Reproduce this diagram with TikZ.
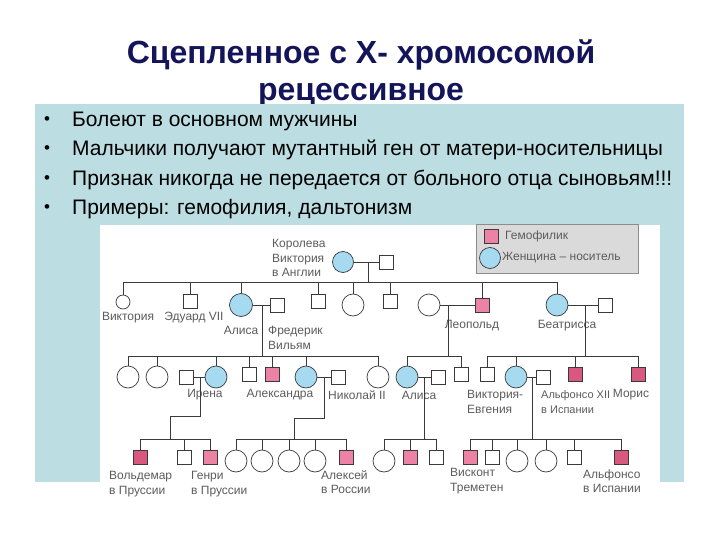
\documentclass[tikz,border=0pt]{standalone}
\usepackage{fontspec}
\setmainfont{Liberation Sans}

\definecolor{titleC}{HTML}{14145A}
\definecolor{panelC}{HTML}{BCDEE2}
\definecolor{carrierC}{HTML}{A6DAF0}
\definecolor{hemoC}{HTML}{EC82A4}
\definecolor{hemoDarkC}{HTML}{D8587F}
\definecolor{lineC}{HTML}{3A3A3A}
\definecolor{labelC}{HTML}{5C5C5C}
\definecolor{legendC}{HTML}{DADADA}

\tikzset{
  male/.style={rectangle, draw=lineC, fill=white, minimum size=14pt, inner sep=0pt, line width=0.7pt},
  hemo/.style={male, fill=hemoC},
  hemodark/.style={male, fill=hemoDarkC},
  female/.style={circle, draw=lineC, fill=white, minimum size=22pt, inner sep=0pt, line width=0.7pt},
  carrier/.style={female, fill=carrierC},
  link/.style={draw=lineC, line width=0.8pt},
  lbl/.style={text=labelC, font=\fontsize{12}{14.5}\selectfont, inner sep=0pt, align=left},
  bulletline/.style={anchor=west, inner sep=0pt, font=\fontsize{21}{24}\selectfont}
}

\begin{document}
\begin{tikzpicture}[x=1pt, y=-1pt]

\def\rowA{262}
\def\rowB{305}
\def\rowBs{301}
\def\rowC{377}
\def\rowCs{374}
\def\rowD{461}
\def\rowDs{457}

\useasboundingbox (0,0) rectangle (720,540);
\fill[white] (0,0) rectangle (720,540);

\node[font=\bfseries\fontsize{32}{37}\selectfont, text=titleC, align=center] (title) at (361,73) {Сцепленное с Х- хромосомой\\рецессивное};

\fill[panelC] (35,104) rectangle (684,482);
\fill[white] (100,225) rectangle (660,482);

\node[bulletline, font=\fontsize{17}{20}\selectfont] (d1) at (44,121) {•};
\node[bulletline, font=\fontsize{17}{20}\selectfont] (d2) at (44,150) {•};
\node[bulletline, font=\fontsize{17}{20}\selectfont] (d3) at (44,180) {•};
\node[bulletline, font=\fontsize{17}{20}\selectfont] (d4) at (44,209) {•};
\node[bulletline] (t1) at (72,121) {Болеют в основном мужчины};
\node[bulletline] (t2) at (72,150) {Мальчики получают мутантный ген от матери-носительницы};
\node[bulletline] (t3) at (72,180) {Признак никогда не передается от больного отца сыновьям!!!};
\node[bulletline] (t4) at (72,209) {Примеры: гемофилия, дальтонизм};

\node[draw=black!45, fill=legendC, minimum width=162pt, minimum height=49pt, anchor=north west, inner sep=0pt] (legend) at (476,224) {};
\node[hemo] (keyH) at (491,236) {};
\node[lbl, anchor=west] (keyHt) at (505,236) {Гемофилик};
\node[carrier, minimum size=21pt] (keyC) at (490,258) {};
\node[lbl, anchor=west] (keyCt) at (502,258) {Женщина – носитель};

% I
\node[carrier, minimum size=21pt] (queen) at (343,\rowA) {};
\node[male] (albert) at (386,\rowA) {};
\node[lbl, anchor=west] (queenT) at (272,258) {Королева\\Виктория\\в Англии};
\draw[link] (queen.east) -- (albert.west);
\coordinate (g2) at (0,282);
\coordinate (mQ) at (368,\rowA);
\draw[link] (mQ) -- (mQ |- g2);

% II
\node[female, minimum size=14pt] (vicP) at (123,302) {};
\node[male] (edw) at (190,\rowBs) {};
\node[carrier, minimum size=23pt] (alice) at (241,\rowB) {};
\node[male] (fred) at (277,\rowB) {};
\node[male] (sonA) at (318,\rowBs) {};
\node[female] (dauA) at (353,\rowB) {};
\node[male] (sonB) at (390,\rowBs) {};
\node[female] (leoW) at (429,\rowB) {};
\node[hemo] (leo) at (482,\rowB) {};
\node[carrier] (bea) at (557,\rowB) {};
\node[male] (beaH) at (605,\rowB) {};

\draw[link] (vicP.north |- g2) -- (bea.north |- g2);
\foreach \p in {vicP,edw,alice,sonA,dauA,sonB,leo,bea}
  \draw[link] (\p.north) -- (\p.north |- g2);
\draw[link] (alice.east) -- (fred.west);
\draw[link] (leoW.east) -- (leo.west);
\draw[link] (bea.east) -- (beaH.west);

\node[lbl] (vicPT) at (128,318) {Виктория};
\node[lbl] (edwT) at (194,318) {Эдуард VII};
\node[lbl] (aliceT) at (241,330) {Алиса};
\node[lbl, anchor=west] (fredT) at (268,338) {Фредерик\\Вильям};
\node[lbl] (leoT) at (472,326) {Леопольд};
\node[lbl] (beaT) at (567,326) {Беатрисса};

\coordinate (g3) at (0,356);
\coordinate (mA) at (262,\rowB);
\coordinate (mL) at (448,\rowB);
\coordinate (mB) at (585,\rowB);
\foreach \m in {mA,mL,mB}
  \draw[link] (\m) -- (\m |- g3);

% III
\node[female] (c1) at (128,\rowC) {};
\node[female] (c2) at (157,\rowC) {};
\node[male] (irenaH) at (186,\rowC) {};
\node[carrier] (irena) at (216,\rowC) {};
\node[male] (c4) at (249,\rowCs) {};
\node[hemo] (c5) at (272,\rowCs) {};
\node[carrier] (alexandra) at (306,\rowC) {};
\node[male] (nicholas) at (338,\rowC) {};
\node[female] (c7) at (378,\rowC) {};
\node[carrier] (aliceL) at (407,\rowC) {};
\node[male] (aliceH) at (438,\rowC) {};
\node[male] (leoS) at (461,\rowCs) {};
\node[male] (b1) at (487,\rowCs) {};
\node[carrier] (vicEug) at (516,\rowC) {};
\node[male] (alfonso) at (543,\rowC) {};
\node[hemodark] (b3) at (575,\rowCs) {};
\node[hemodark] (moris) at (638,\rowCs) {};

\draw[link] (c1.north |- g3) -- (c7.north |- g3);
\draw[link] (aliceL.north |- g3) -- (leoS.north |- g3);
\draw[link] (b1.north |- g3) -- (moris.north |- g3);
\foreach \p in {c1,c2,irena,c4,c5,alexandra,c7,aliceL,leoS,b1,vicEug,b3,moris}
  \draw[link] (\p.north) -- (\p.north |- g3);
\draw[link] (irenaH.east) -- (irena.west);
\draw[link] (alexandra.east) -- (nicholas.west);
\draw[link] (aliceL.east) -- (aliceH.west);
\draw[link] (vicEug.east) -- (alfonso.west);

\node[lbl] (irenaT) at (205,395) {Ирена};
\node[lbl] (alexandraT) at (280,395) {Александра};
\node[lbl] (nicholasT) at (357,395) {Николай II};
\node[lbl] (aliceLT) at (419,395) {Алиса};
\node[lbl, anchor=west] (vicEugT) at (467,402) {Виктория-\\Евгения};
\node[lbl, anchor=west, font=\fontsize{11}{14.5}\selectfont] (alfonsoT) at (541,402) {Альфонсо XII\\в Испании};
\node[lbl] (morisT) at (631,395) {Морис};

\coordinate (g4) at (0,439);
\coordinate (mI) at (200,\rowC);
\coordinate (bI) at (170,416);
\coordinate (mN) at (324,\rowC);
\coordinate (bN) at (294,418);
\coordinate (mAL) at (424,\rowC);
\coordinate (mV) at (532,\rowC);
\draw[link] (mI) |- (bI) -- (bI |- g4);
\draw[link] (mN) |- (bN) -- (bN |- g4);
\draw[link] (mAL) -- (mAL |- g4);
\draw[link] (mV) -- (mV |- g4);

% IV
\node[hemodark] (wold) at (140,\rowDs) {};
\node[male] (i2) at (184,\rowDs) {};
\node[hemo] (henry) at (210,\rowDs) {};
\node[female] (n1) at (236,\rowD) {};
\node[female] (n2) at (262,\rowD) {};
\node[female] (n3) at (289,\rowD) {};
\node[female] (n4) at (315,\rowD) {};
\node[hemo] (alexei) at (346,\rowDs) {};
\node[female] (a1) at (384,\rowD) {};
\node[hemo] (a2) at (410,\rowDs) {};
\node[male] (a3) at (436,\rowDs) {};
\node[hemo] (v1) at (470,\rowDs) {};
\node[male] (v2) at (492,\rowDs) {};
\node[female] (v3) at (517,\rowD) {};
\node[female] (v4) at (546,\rowD) {};
\node[male] (v5) at (574,\rowDs) {};
\node[hemodark] (v6) at (621,\rowDs) {};

\draw[link] (wold.north |- g4) -- (henry.north |- g4);
\draw[link] (n1.north |- g4) -- (alexei.north |- g4);
\draw[link] (a1.north |- g4) -- (a3.north |- g4);
\draw[link] (v1.north |- g4) -- (v6.north |- g4);
\foreach \p in {wold,i2,henry,n1,n2,n3,n4,alexei,a1,a2,a3,v1,v2,v3,v4,v5,v6}
  \draw[link] (\p.north) -- (\p.north |- g4);

\node[lbl, anchor=west] (woldT) at (109,484) {Вольдемар\\в Пруссии};
\node[lbl, anchor=west] (henryT) at (191,484) {Генри\\в Пруссии};
\node[lbl, anchor=west] (alexeiT) at (321,482) {Алексей\\в России};
\node[lbl, anchor=west] (v1T) at (450,481) {Висконт\\Треметен};
\node[lbl, anchor=west] (v6T) at (583,481) {Альфонсо\\в Испании};

\end{tikzpicture}
\end{document}
